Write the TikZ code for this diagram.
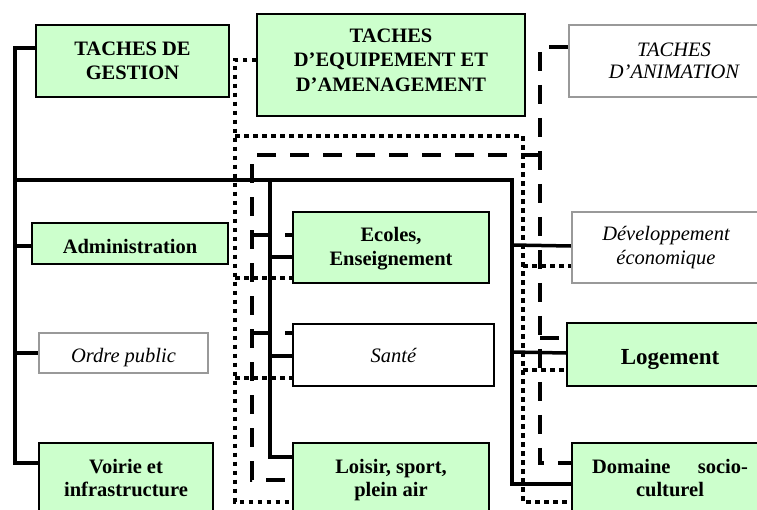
\documentclass[tikz,border=0pt]{standalone}
\usepackage{fontspec}
\setmainfont{Liberation Serif}
\usetikzlibrary{backgrounds}
\definecolor{boxgreen}{HTML}{CCFFCC}
\definecolor{boxgray}{HTML}{999999}
\begin{document}
\begin{tikzpicture}[x=1pt,y=-1pt,
  greenbox/.style={rectangle, inner sep=0pt, align=center, draw=black, line width=1.2pt, fill=boxgreen,
    font=\bfseries\fontsize{20.5}{23.5}\selectfont},
  whitebox/.style={rectangle, inner sep=0pt, align=center, draw=boxgray, line width=1.5pt, fill=white,
    font=\itshape\fontsize{20.5}{23.5}\selectfont},
  plainbox/.style={rectangle, inner sep=0pt, align=center, draw=black, line width=1.2pt, fill=white,
    font=\itshape\fontsize{20.5}{23.5}\selectfont},
  solidln/.style={line width=3.5pt, line cap=butt, line join=miter},
  dashln/.style={line width=4pt, line cap=butt, dash pattern=on 19pt off 14pt},
  dotln/.style={line width=4pt, line cap=butt, dash pattern=on 4.5pt off 4.5pt},
]
\useasboundingbox (0,0) rectangle (757,509);
\clip (0,0) rectangle (757,509);

% boxes
\node[greenbox, minimum width=193pt, minimum height=72pt] (gestion) at (132.5,61) {TACHES DE\\GESTION};
\node[greenbox, minimum width=268pt, minimum height=102pt, font=\bfseries\fontsize{20.5}{24.5}\selectfont] (equip) at (391,65)
  {TACHES\\D’EQUIPEMENT ET\\D’AMENAGEMENT\rule[-10pt]{0pt}{10pt}};
\node[whitebox, minimum width=210pt, minimum height=72pt, font=\itshape\fontsize{20.5}{22.5}\selectfont] (anim) at (674,61) {TACHES\\D’ANIMATION};
\node[greenbox, minimum width=196pt, minimum height=41pt] (admin) at (130,243.5) {\rule{0pt}{21pt}Administration};
\node[whitebox, minimum width=169pt, minimum height=40pt] (ordre) at (123.5,353) {\rule{0pt}{24pt}Ordre public};
\node[greenbox, minimum width=174pt, minimum height=70pt] (voirie) at (126,478) {Voirie et\\infrastructure};
\node[greenbox, minimum width=196pt, minimum height=71pt] (ecoles) at (391,247.5) {\rule{0pt}{17pt}Ecoles,\\Enseignement};
\node[plainbox, minimum width=201pt, minimum height=62pt] (sante) at (393.5,355) {Santé};
\node[greenbox, minimum width=196pt, minimum height=70pt] (loisir) at (391,478) {\rule{0pt}{18pt}Loisir, sport,\\plein air};
\node[whitebox, minimum width=188pt, minimum height=71pt] (dev) at (666,247.5) {Développement\\économique};
\node[greenbox, minimum width=206pt, minimum height=63pt, font=\bfseries\fontsize{23}{26}\selectfont] (logement) at (670,354.5) {\rule{0pt}{26pt}Logement};
\node[greenbox, minimum width=196pt, minimum height=70pt] (domaine) at (670,478) {\makebox[156pt]{Domaine\hfill socio-}\\culturel};

\begin{scope}[on background layer]
\fill[white] (0,0) rectangle (757,509);
% solid connectors
\draw[solidln] (gestion.west |- 0,48) -- (15,48) -- (15,463) -- (voirie.west |- 0,463);
\draw[solidln] (15,246) -- (admin.west |- 0,246);
\draw[solidln] (15,353) -- (ordre.west |- 0,353);
\draw[solidln] (15,180) -- (512,180) -- (512,484) -- (domaine.west |- 0,484);
\draw[solidln] (512,245) -- (dev.west |- 0,246);
\draw[solidln] (512,352) -- (logement.west |- 0,353);
\draw[solidln] (270,180) -- (270,457) -- (loisir.west |- 0,457);
\draw[solidln] (270,257) -- (ecoles.west |- 0,257);
\draw[solidln] (270,356) -- (sante.west |- 0,356);
% dashed connectors
\draw[dashln] (anim.west |- 0,47) -- (540,47) -- (540,463) -- (domaine.west |- 0,463);
\draw[dashln] (540,155) -- (252,155) -- (252,480) -- (loisir.west |- 0,480);
\draw[dashln] (252,235) -- (ecoles.west |- 0,235);
\draw[dashln] (252,333) -- (sante.west |- 0,333);
\draw[dashln] (540,338) -- (logement.west |- 0,338);
% dotted connectors
\draw[dotln] (equip.west |- 0,60) -- (235,60) -- (235,502) -- (loisir.west |- 0,502);
\draw[dotln] (235,136) -- (523,136) -- (523,502) -- (domaine.west |- 0,502);
\draw[dotln] (235,278) -- (ecoles.west |- 0,278);
\draw[dotln] (235,378) -- (sante.west |- 0,378);
\draw[dotln] (523,266) -- (dev.west |- 0,266);
\draw[dotln] (523,370) -- (logement.west |- 0,370);
\end{scope}
\end{tikzpicture}
\end{document}
